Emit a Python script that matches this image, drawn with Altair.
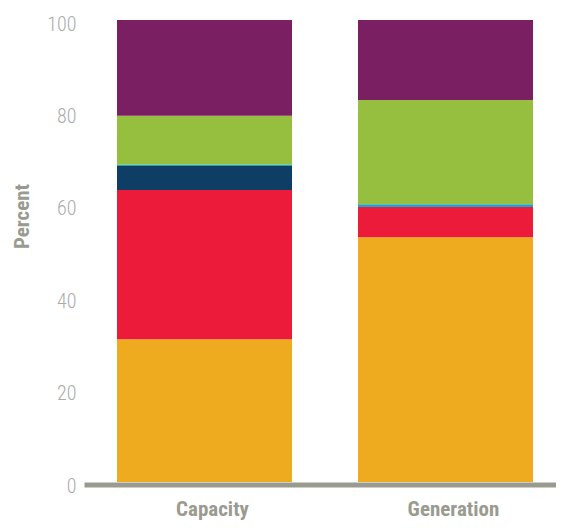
import altair as alt
import pandas as pd

categories = ["Capacity", "Generation"]
sources = ["Source 1", "Source 2", "Source 3", "Source 4", "Source 5", "Source 6"]
colors = ["#EEAB1F", "#ED1B3A", "#0E3E66", "#1BA1D6", "#97BF3F", "#7A1F62"]
capacity = [30.9, 32.3, 5.2, 0.25, 10.6, 20.75]
generation = [53.0, 6.5, 0.0, 0.6, 22.6, 17.3]
y_ticks = [0, 20, 40, 60, 80, 100]

rows = []
for cat, vals in zip(categories, [capacity, generation]):
    for i, (s, v) in enumerate(zip(sources, vals)):
        rows.append({"category": cat, "source": s, "value": v, "idx": i})
df = pd.DataFrame(rows)

label_font = "'Roboto Condensed', 'DejaVu Sans Condensed', 'Liberation Sans Narrow', 'Arial Narrow', Roboto, sans-serif"
gray = "#9A9B90"

chart = alt.Chart(df).mark_bar(size=175).encode(
    x=alt.X(
        "category:N",
        sort=categories,
        scale=alt.Scale(paddingInner=0, paddingOuter=0, range=[0, 482]),
        axis=alt.Axis(
            title=None, labelAngle=0, ticks=False,
            domainColor=gray, domainWidth=5, offset=2.5,
            labelFont=label_font, labelFontSize=21, labelFontWeight="bold",
            labelColor=gray, labelPadding=31, labelOffset=8,
            labelBaseline="alphabetic",
        ),
    ),
    y=alt.Y(
        "value:Q",
        stack="zero",
        scale=alt.Scale(domain=[0, 100], nice=False),
        axis=alt.Axis(
            values=y_ticks, grid=False, domain=False, ticks=False,
            labelFont=label_font, labelFontSize=20, labelFontWeight=300,
            labelColor="#ABABAB",
            labelPadding=8, labelOffset=4,
            title="Percent", titleFont=label_font, titleFontSize=21,
            titleFontWeight="bold", titleColor=gray,
            titleX=-56, titleY=196, titleAlign="center",
            titleBaseline="alphabetic", titleAngle=-90,
        ),
    ),
    color=alt.Color("source:N", scale=alt.Scale(domain=sources, range=colors), legend=None),
    order=alt.Order("idx:Q", sort="ascending"),
).properties(
    width=472,
    height=462,
    autosize=alt.AutoSizeParams(type="none"),
    padding={"left": 76, "top": 12, "right": 0, "bottom": 41},
).configure_view(stroke=None)

chart.save("out.html", embed_options={"renderer": "svg", "actions": False})
